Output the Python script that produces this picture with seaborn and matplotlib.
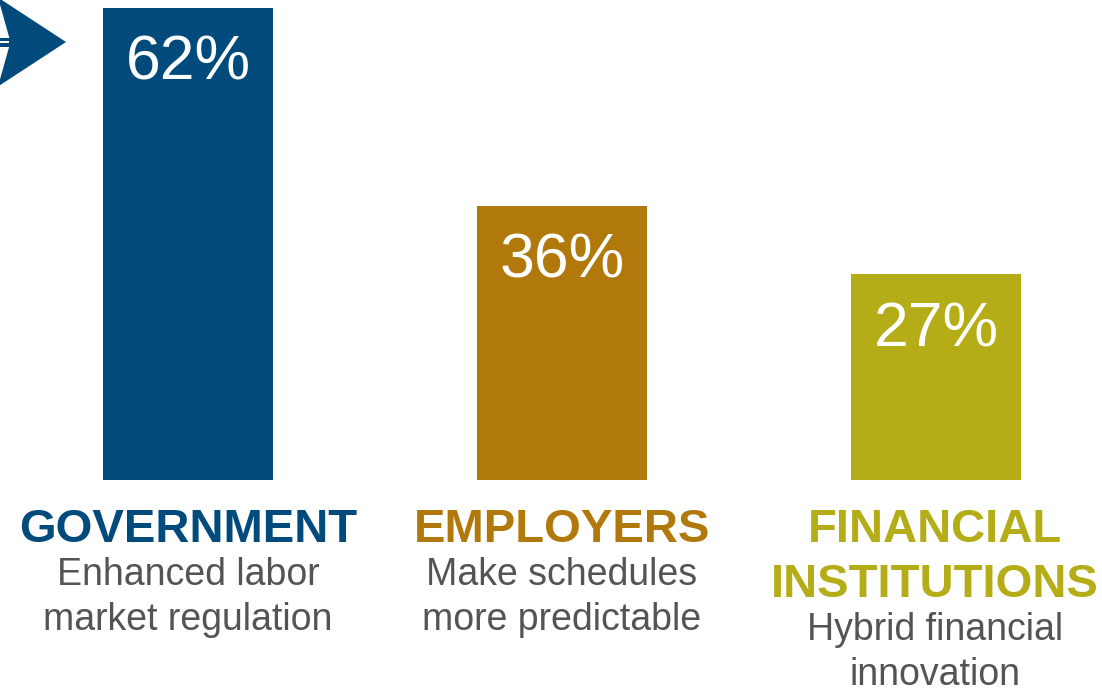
import matplotlib
matplotlib.use("Agg")
import matplotlib.pyplot as plt
import seaborn as sns
import pandas as pd
from matplotlib.patches import Polygon, Rectangle

# Survey shares by responsible party
categories = ["GOVERNMENT", "EMPLOYERS", "FINANCIAL\nINSTITUTIONS"]
values = [62, 36, 27]
subtitles = ["Enhanced labor\nmarket regulation",
             "Make schedules\nmore predictable",
             "Hybrid financial\ninnovation"]
colors = ["#014B7C", "#B1780C", "#B5AD17"]

W, H = 1102, 691
sns.set_theme(style="white")
plt.rcParams["font.family"] = ["Liberation Sans", "DejaVu Sans"]

fig = plt.figure(figsize=(W / 100, H / 100), dpi=100)
fig.patch.set_facecolor("white")

# bar baseline sits 480 px from the top of the canvas
base_px = 480
ax = fig.add_axes([0, (H - base_px) / H, 1, base_px / H])
df = pd.DataFrame({"cat": categories, "val": values})
sns.barplot(data=df, x="cat", y="val", hue="cat", palette=colors,
            legend=False, width=0.455, ax=ax, saturation=1, linewidth=0)
ax.set_xlim(-0.503, 2.444)
ax.set_ylim(0, 63.05)
ax.axis("off")

# value labels inside the top of each bar
for i, v in enumerate(values):
    ax.annotate(f"{v}%", xy=(i, v), xytext=(0, -72), textcoords="offset pixels",
                ha="center", va="baseline", color="white", fontsize=45)


def fy(px):
    return 1 - px / H


def fx(px):
    return px / W


centers = [188, 562, 935]
for i, (cat, sub, col) in enumerate(zip(categories, subtitles, colors)):
    lines = cat.split("\n")
    y = 542
    for ln in lines:
        fig.text(fx(centers[i]), fy(y), ln, ha="center", va="baseline",
                 fontsize=34, fontweight="bold", color=col)
        y += 55
    y = y - 55 + 43
    for ln in sub.split("\n"):
        fig.text(fx(centers[i]), fy(y), ln, ha="center", va="baseline",
                 fontsize=27, color="#545454")
        y += 45

# dart-shaped arrow marker at the top left
def pts(seq):
    return [(fx(x), fy(y)) for x, y in seq]

arrow = Polygon(pts([(-2, -2.5), (66, 42), (-2, 86.5), (10.5, 42)]),
                closed=True, transform=fig.transFigure, facecolor=colors[0],
                edgecolor="none")
fig.patches.append(arrow)
fig.patches.append(Rectangle((fx(-2), fy(46.5)), fx(15), 9 / H,
                             transform=fig.transFigure, facecolor=colors[0],
                             edgecolor="none"))
fig.patches.append(Rectangle((fx(-2), fy(42.8)), fx(11), 1.6 / H,
                             transform=fig.transFigure, facecolor="white",
                             edgecolor="none"))

fig.savefig("out.png", dpi=100)
